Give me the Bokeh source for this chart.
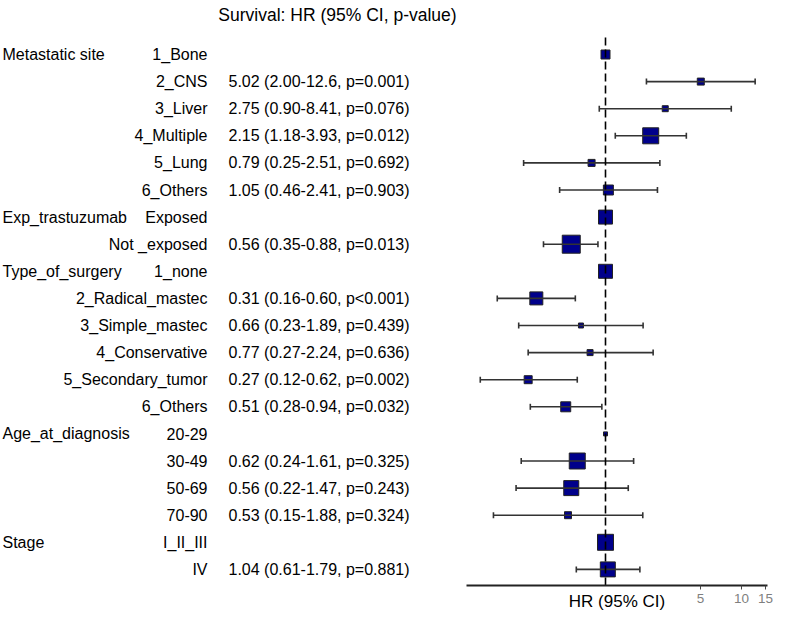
import math
from bokeh.plotting import figure
from bokeh.layouts import row
from bokeh.models import Range1d, FixedTicker, BasicTickFormatter, ColumnDataSource
from bokeh.core.properties import value
from bokeh.embed import file_html
from bokeh.resources import INLINE

# ---------------- data ----------------
groups = ["Metastatic site", "", "", "", "", "",
          "Exp_trastuzumab", "",
          "Type_of_surgery", "", "", "", "", "",
          "Age_at_diagnosis", "", "", "",
          "Stage", ""]
levels = ["1_Bone", "2_CNS", "3_Liver", "4_Multiple", "5_Lung", "6_Others",
          "Exposed", "Not _exposed",
          "1_none", "2_Radical_mastec", "3_Simple_mastec", "4_Conservative",
          "5_Secondary_tumor", "6_Others",
          "20-29", "30-49", "50-69", "70-90",
          "I_II_III", "IV"]
hr = [1, 5.02, 2.75, 2.15, 0.79, 1.05,
      1, 0.56,
      1, 0.31, 0.66, 0.77, 0.27, 0.51,
      1, 0.62, 0.56, 0.53,
      1, 1.04]
ci_low = [None, 2.00, 0.90, 1.18, 0.25, 0.46,
          None, 0.35,
          None, 0.16, 0.23, 0.27, 0.12, 0.28,
          None, 0.24, 0.22, 0.15,
          None, 0.61]
ci_high = [None, 12.6, 8.41, 3.93, 2.51, 2.41,
           None, 0.88,
           None, 0.60, 1.89, 2.24, 0.62, 0.94,
           None, 1.61, 1.47, 1.88,
           None, 1.79]
p_values = ["", "0.001", "0.076", "0.012", "0.692", "0.903",
            "", "0.013",
            "", "<0.001", "0.439", "0.636", "0.002", "0.032",
            "", "0.325", "0.243", "0.324",
            "", "0.881"]
# relative box weight (number of patients)
box_weight = [9, 7, 6, 16, 7, 10,
              14, 18,
              14, 13, 5, 6, 8, 10,
              4, 16, 15, 7,
              16, 15]
tick_values = [5, 10, 15]
title_text = "Survival: HR (95% CI, p-value)"
x_label = "HR (95% CI)"

# ---------------- helpers ----------------
def fmt(v):
    return f"{v:.3g}" if v >= 10 else f"{v:.2f}"

def label(h, lo, hi, pv):
    if lo is None:
        return ""
    ptxt = f"p{pv}" if pv.startswith("<") else f"p={pv}"
    return f"{fmt(h)} ({fmt(lo)}-{fmt(hi)}, {ptxt})"

n = len(levels)
rows = list(range(n))
value_text = [label(h, lo, hi, pv) for h, lo, hi, pv in zip(hr, ci_low, ci_high, p_values)]

FONT_NAME = "Liberation Sans"
FONT = value(FONT_NAME)
FIG_H = 613
S = 27.1          # row spacing in px
TOP0 = 54         # y of first row in px
AX_Y = TOP0 + (n - 1) * S + 16   # axis line y in px
BOT = int(round(FIG_H - AX_Y))

# shared vertical range (rows, flipped: row 0 at top)
yr = Range1d(start=(FIG_H - BOT - TOP0) / S, end=-TOP0 / S)

# ---------------- left (text) figure ----------------
LW = 463
p1 = figure(width=LW, height=FIG_H, x_range=Range1d(0, LW), y_range=yr,
            toolbar_location=None, output_backend="svg",
            min_border_left=0, min_border_right=0, min_border_top=0,
            min_border_bottom=BOT)
p1.axis.visible = False
p1.grid.visible = False
p1.outline_line_color = None

src = ColumnDataSource(dict(y=rows, g=groups, lv=levels, vt=value_text,
                            x0=[2] * n, x1=[207] * n, x2=[228] * n))
common = dict(text_font=FONT, text_font_size="16px", text_color="black",
              text_baseline="middle")
p1.text(x="x0", y="y", text="g", source=src, text_align="left", **common)
p1.text(x="x1", y="y", text="lv", source=src, text_align="right", **common)
p1.text(x="x2", y="y", text="vt", source=src, text_align="left", **common)
p1.text(x=[337], y=[(14 - TOP0) / S], text=[title_text], text_align="center",
        text_font=FONT, text_font_size="17.5px", text_color="black",
        text_baseline="middle")

# ---------------- right (forest) figure ----------------
RW = 773 - LW
FR_L, FR_R, X_ONE, DECADE = 466, 767, 605, 136.0
p2 = figure(width=RW, height=FIG_H, x_axis_type="log",
            x_range=Range1d(10 ** ((FR_L - X_ONE) / DECADE), 10 ** ((FR_R - X_ONE) / DECADE)),
            y_range=yr,
            toolbar_location=None, output_backend="svg",
            min_border_left=FR_L - LW, min_border_right=LW + RW - FR_R,
            min_border_top=0, min_border_bottom=BOT)
p2.yaxis.visible = False
p2.grid.visible = False
p2.outline_line_color = None

# boxes
p2.scatter(x=hr, y=rows, size=box_weight, marker="square",
           fill_color="#00008B", line_color="#222222", line_width=1)

# error bars
eb_y = [r for r, lo in zip(rows, ci_low) if lo is not None]
eb_lo = [lo for lo in ci_low if lo is not None]
eb_hi = [hi for hi in ci_high if hi is not None]
p2.segment(x0=eb_lo, x1=eb_hi, y0=eb_y, y1=eb_y, line_color="#333333", line_width=1.6)
p2.scatter(x=eb_lo + eb_hi, y=eb_y + eb_y, marker="dash", angle=math.pi / 2,
           size=6, line_color="#333333", line_width=1.6)

# reference line at HR = 1 (from just above first row down to the axis)
p2.segment(x0=[1], x1=[1], y0=[(37 - TOP0) / S], y1=[yr.start],
           line_color="black", line_width=1.6, line_dash="8 4")

ax = p2.xaxis[0]
ax.ticker = FixedTicker(ticks=tick_values)
ax.formatter = BasicTickFormatter()
ax.axis_line_width = 2
ax.axis_line_color = "#222222"
ax.major_tick_in = 0
ax.major_tick_out = 4
ax.major_tick_line_color = "#444444"
ax.minor_tick_line_color = None
ax.major_label_text_color = "#7f7f7f"
ax.major_label_text_font = FONT_NAME
ax.major_label_text_font_size = "13.5px"
ax.major_label_standoff = 4
ax.axis_label = x_label
ax.axis_label_text_font = FONT_NAME
ax.axis_label_text_font_size = "17px"
ax.axis_label_text_font_style = "normal"
ax.axis_label_text_color = "black"
ax.axis_label_standoff = -14

layout = row(p1, p2)
open("out.html", "w").write(file_html(layout, INLINE))
